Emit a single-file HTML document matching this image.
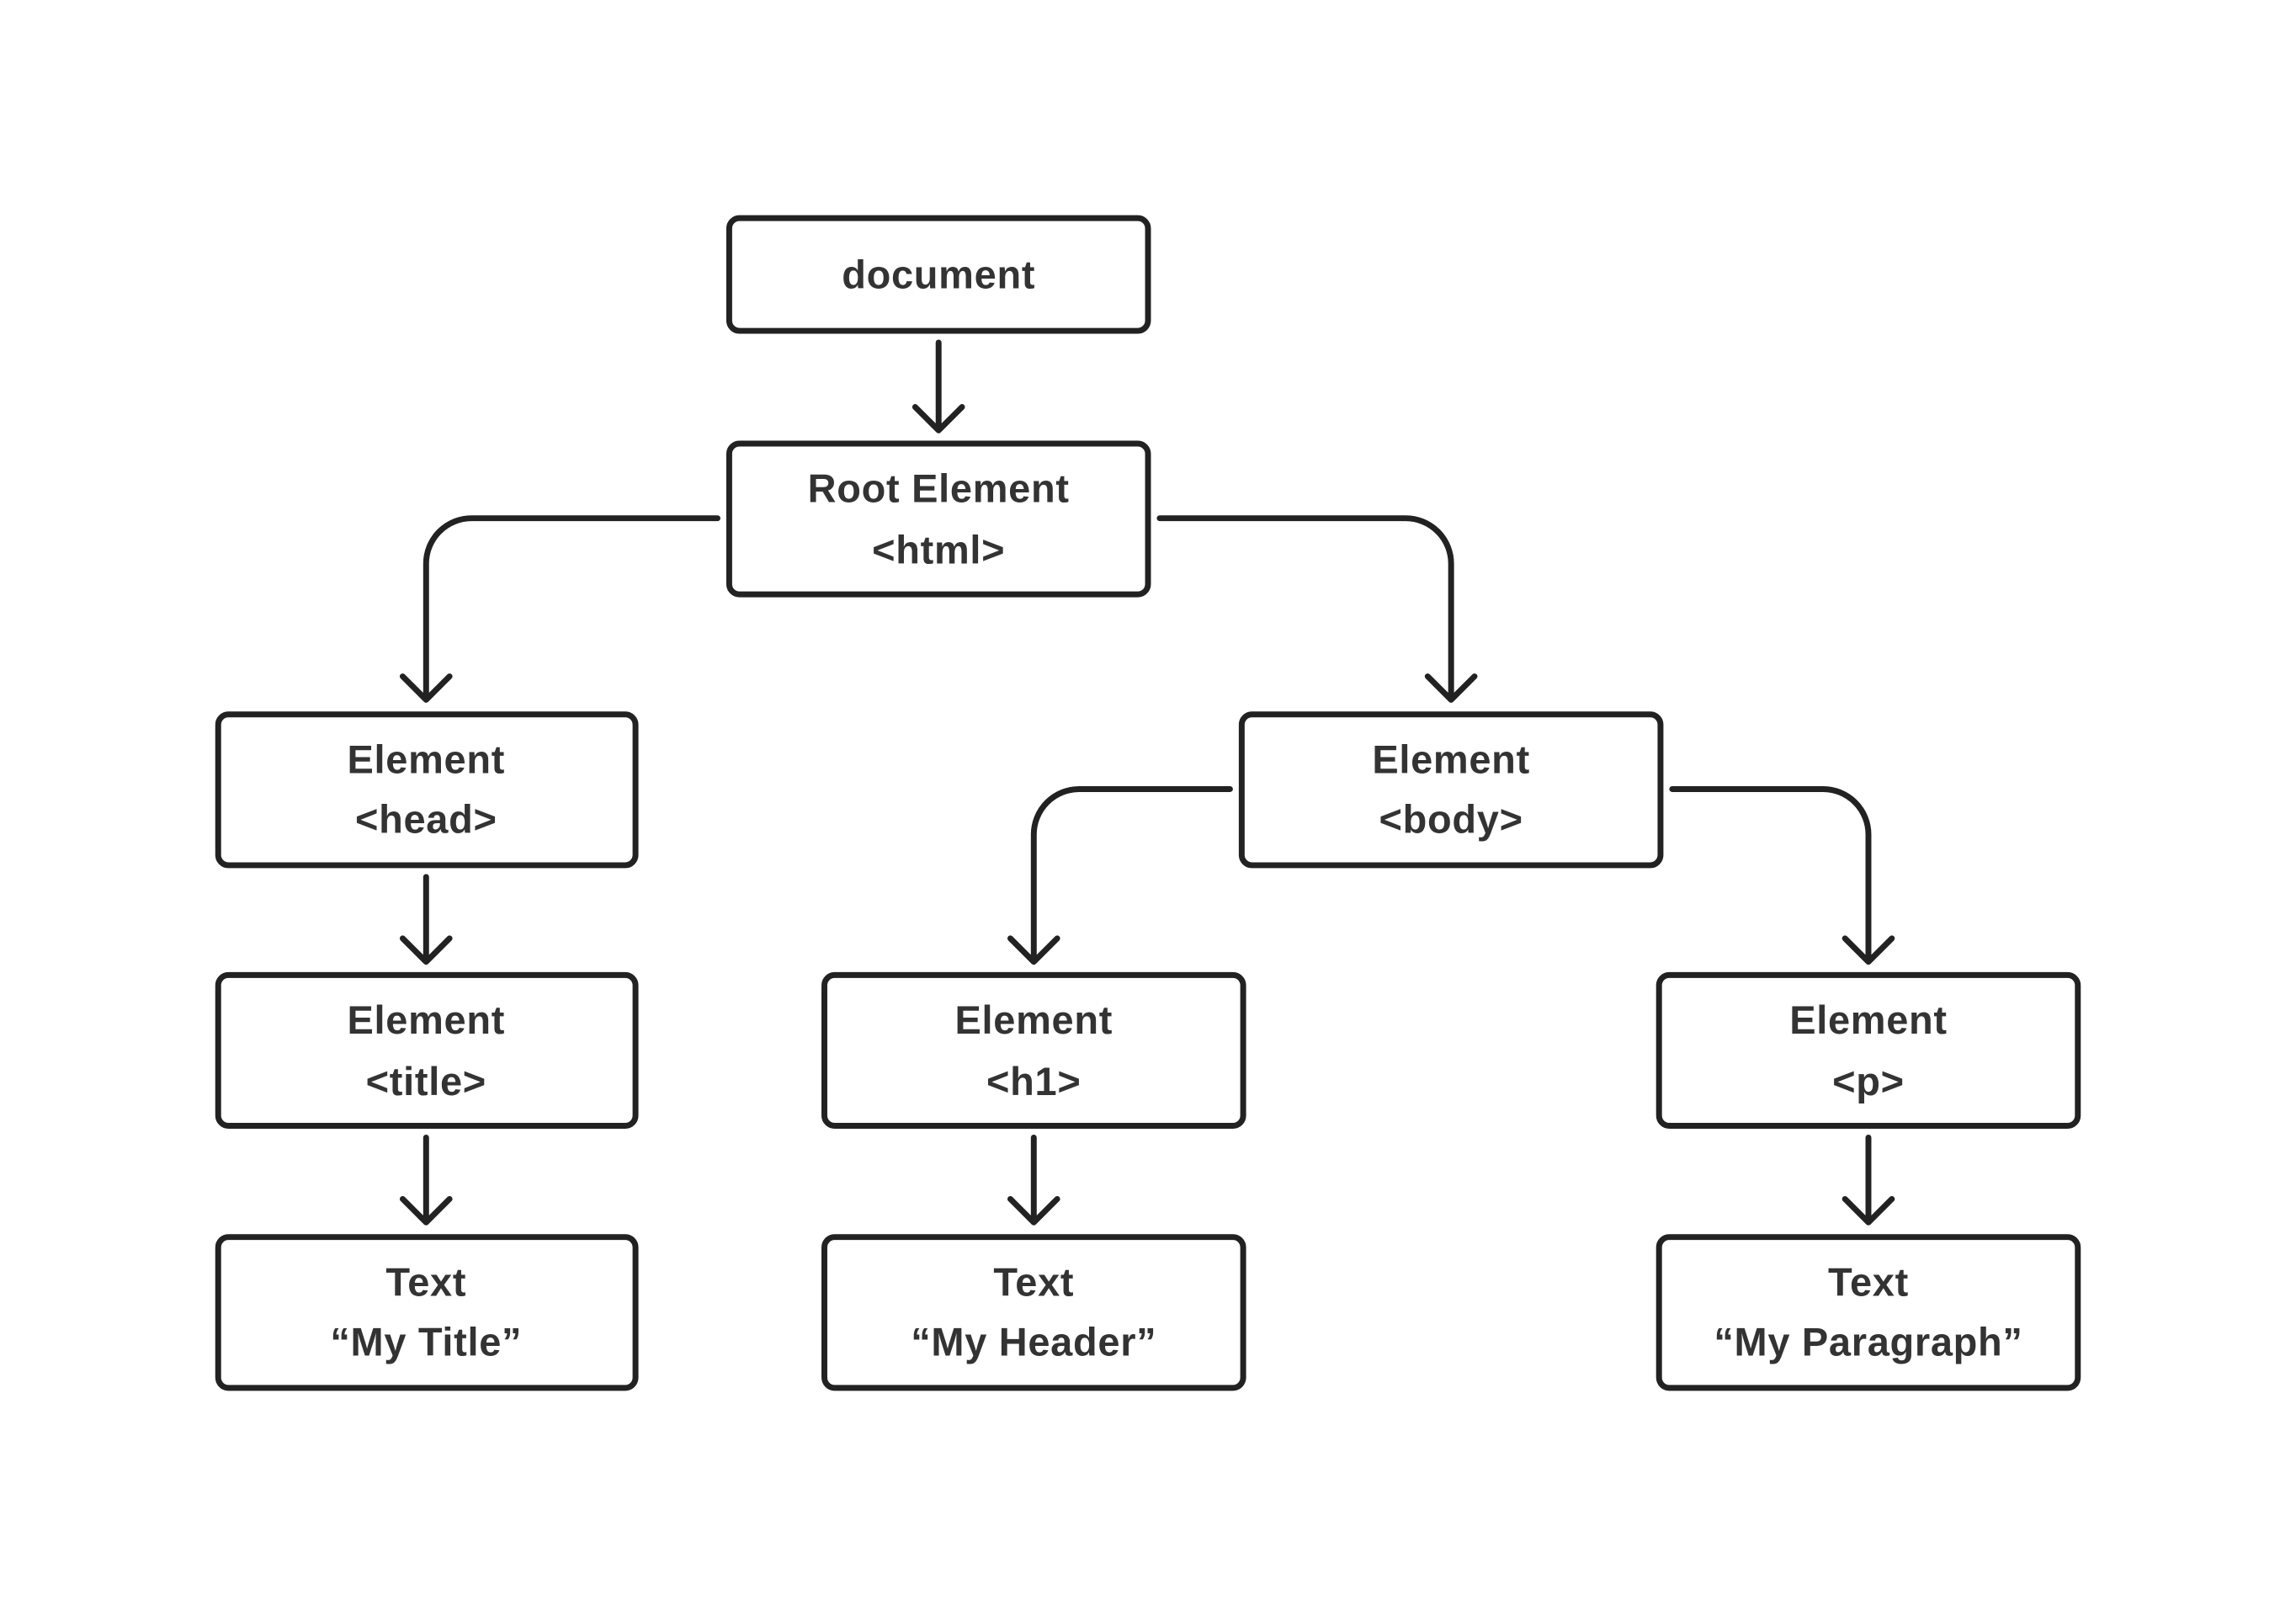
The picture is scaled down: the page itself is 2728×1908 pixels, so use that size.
<!DOCTYPE html>
<html><head><meta charset="utf-8"><style>
html,body{margin:0;padding:0;background:#fff;}
svg{display:block;}
text{font-family:"Liberation Sans",sans-serif;font-weight:bold;font-size:27px;letter-spacing:0.4px;fill:#333;text-anchor:middle;}
</style></head><body>
<svg width="2728" height="1908" viewBox="0 0 1568 1097" preserveAspectRatio="none" xmlns="http://www.w3.org/2000/svg">
<rect width="1568" height="1097" fill="#fff"/>
<g fill="none" stroke="#222" stroke-width="4" stroke-linecap="round" stroke-linejoin="round">
<rect x="498" y="149" width="286" height="77" rx="7"/>
<rect x="498" y="303" width="286" height="103" rx="7"/>
<rect x="149" y="488" width="285" height="103" rx="7"/>
<rect x="848" y="488" width="286" height="103" rx="7"/>
<rect x="149" y="666" width="285" height="103" rx="7"/>
<rect x="563" y="666" width="286" height="103" rx="7"/>
<rect x="1133" y="666" width="286" height="103" rx="7"/>
<rect x="149" y="845" width="285" height="103" rx="7"/>
<rect x="563" y="845" width="286" height="103" rx="7"/>
<rect x="1133" y="845" width="286" height="103" rx="7"/>
<path d="M641 234 V294 M625 278 L641 294 L657 278"/>
<path d="M490 354 H322 A31 31 0 0 0 291 385 V478 M275 462 L291 478 L307 462"/>
<path d="M792 354 H960 A31 31 0 0 1 991 385 V478 M975 462 L991 478 L1007 462"/>
<path d="M840 539 H737 A31 31 0 0 0 706 570 V657 M690 641 L706 657 L722 641"/>
<path d="M1142 539 H1245 A31 31 0 0 1 1276 570 V657 M1260 641 L1276 657 L1292 641"/>
<path d="M291 599 V657 M275 641 L291 657 L307 641"/>
<path d="M291 777 V835 M275 819 L291 835 L307 819"/>
<path d="M706 777 V835 M690 819 L706 835 L722 819"/>
<path d="M1276 777 V835 M1260 819 L1276 835 L1292 819"/>
</g>
<text x="641" y="197">document</text>
<text x="641" y="343">Root Element</text>
<text x="641" y="385">&lt;html&gt;</text>
<text x="291" y="528">Element</text>
<text x="291" y="569">&lt;head&gt;</text>
<text x="991" y="528">Element</text>
<text x="991" y="569">&lt;body&gt;</text>
<text x="291" y="706">Element</text>
<text x="291" y="748">&lt;title&gt;</text>
<text x="706" y="706">Element</text>
<text x="706" y="748">&lt;h1&gt;</text>
<text x="1276" y="706">Element</text>
<text x="1276" y="748">&lt;p&gt;</text>
<text x="291" y="885">Text</text>
<text x="291" y="926">“My Title”</text>
<text x="706" y="885">Text</text>
<text x="706" y="926">“My Header”</text>
<text x="1276" y="885">Text</text>
<text x="1276" y="926">“My Paragraph”</text>
</svg>
</body></html>
